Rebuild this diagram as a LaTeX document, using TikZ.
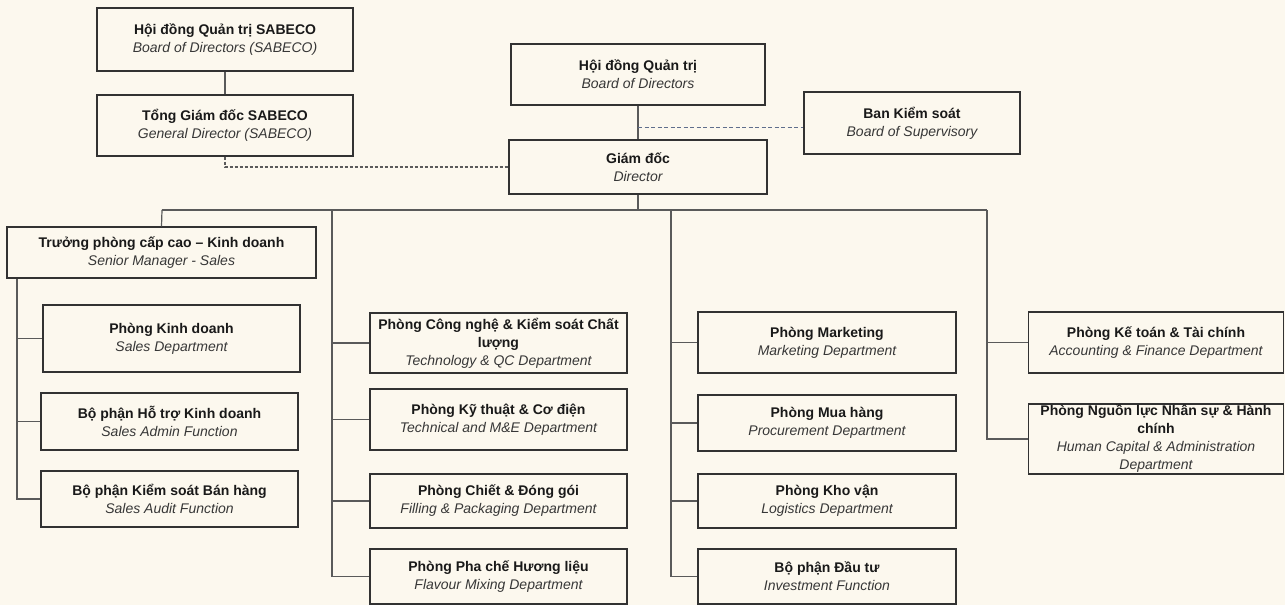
\documentclass[tikz,border=0pt]{standalone}
\usepackage{fontspec}
\setmainfont{Liberation Sans}
\definecolor{bg}{RGB}{252,248,238}
\definecolor{boxline}{RGB}{50,50,50}
\definecolor{conn}{RGB}{90,90,90}
\definecolor{txtb}{RGB}{25,25,25}
\definecolor{txti}{RGB}{55,55,55}
\definecolor{bksdash}{RGB}{95,110,140}
\newcommand{\bt}[2]{\textbf{#1}\\{\color{txti}\itshape #2}}
\begin{document}
\begin{tikzpicture}[x=1pt,y=-1pt,
  orgbox/.style={draw=boxline, line width=1.2pt, fill=bg, align=center, inner sep=1pt,
    font=\fontsize{14}{18}\selectfont, text=txtb},
  link/.style={draw=conn, line width=1.2pt},
  dlink/.style={draw=conn, line width=1.1pt, dash pattern=on 3pt off 2pt},
  blink/.style={draw=bksdash, line width=0.8pt, dash pattern=on 4pt off 2.5pt}]
\fill[bg] (0,0) rectangle (1285,605);
\useasboundingbox (0,0) rectangle (1285,605);

% top-left
\node[orgbox, minimum width=256pt, minimum height=63pt] (hdqts) at (225,39.5)
  {\bt{Hội đồng Quản trị SABECO}{Board of Directors (SABECO)}};
\node[orgbox, minimum width=256pt, minimum height=61pt] (tgds) at (225,125.5)
  {\bt{Tổng Giám đốc SABECO}{General Director (SABECO)}};

% center top
\node[orgbox, minimum width=254pt, minimum height=61pt] (hdqt) at (638,74.5)
  {\bt{Hội đồng Quản trị}{Board of Directors}};
\node[orgbox, minimum width=258pt, minimum height=54pt] (gd) at (638,167)
  {\bt{Giám đốc}{Director}};
\node[orgbox, minimum width=216pt, minimum height=62pt] (bks) at (912,123)
  {\bt{Ban Kiểm soát}{Board of Supervisory}};

% column 1
\node[orgbox, minimum width=309pt, minimum height=51pt] (tpcc) at (161.5,252.5)
  {\bt{Trưởng phòng cấp cao – Kinh doanh}{Senior Manager - Sales}};
\node[orgbox, minimum width=257pt, minimum height=67pt] (pkd) at (171.5,338.5)
  {\bt{Phòng Kinh doanh}{Sales Department}};
\node[orgbox, minimum width=257pt, minimum height=57pt] (htkd) at (169.5,421.5)
  {\bt{Bộ phận Hỗ trợ Kinh doanh}{Sales Admin Function}};
\node[orgbox, minimum width=257pt, minimum height=56pt] (ksbh) at (169.5,499)
  {\bt{Bộ phận Kiểm soát Bán hàng}{Sales Audit Function}};

% column 2
\node[orgbox, minimum width=257pt, minimum height=60pt] (cn) at (498.5,343)
  {\textbf{Phòng Công nghệ \& Kiểm soát Chất}\\\textbf{lượng}\\{\color{txti}\itshape Technology \& QC Department}};
\node[orgbox, minimum width=257pt, minimum height=61pt] (kt) at (498.5,419.5)
  {\bt{Phòng Kỹ thuật \& Cơ điện}{Technical and M\&E Department}};
\node[orgbox, minimum width=257pt, minimum height=54pt] (chiet) at (498.5,501)
  {\bt{Phòng Chiết \& Đóng gói}{Filling \& Packaging Department}};
\node[orgbox, minimum width=257pt, minimum height=55pt] (pc) at (498.5,576.5)
  {\bt{Phòng Pha chế Hương liệu}{Flavour Mixing Department}};

% column 3
\node[orgbox, minimum width=258pt, minimum height=61pt] (mkt) at (827,342.5)
  {\bt{Phòng Marketing}{Marketing Department}};
\node[orgbox, minimum width=258pt, minimum height=56pt] (mh) at (827,423)
  {\bt{Phòng Mua hàng}{Procurement Department}};
\node[orgbox, minimum width=258pt, minimum height=54pt] (kv) at (827,501)
  {\bt{Phòng Kho vận}{Logistics Department}};
\node[orgbox, minimum width=258pt, minimum height=55pt] (dt) at (827,576.5)
  {\bt{Bộ phận Đầu tư}{Investment Function}};

% column 4
\node[orgbox, minimum width=255pt, minimum height=61pt] (kto) at (1156,342.5)
  {\bt{Phòng Kế toán \& Tài chính}{Accounting \& Finance Department}};
\node[orgbox, minimum width=255pt, minimum height=70pt, inner sep=0pt] (ns) at (1156,439)
  {\textbf{Phòng Nguồn lực Nhân sự \& Hành}\\\textbf{chính}\\{\color{txti}\itshape Human Capital \& Administration}\\{\color{txti}\itshape Department}};

% junction coordinates
\coordinate (busL) at (162,210);
\coordinate (busR) at (987,210);
\coordinate (sp1) at (17,0);
\coordinate (sp2) at (332,210);
\coordinate (sp3) at (671,210);
\coordinate (sp4) at (987,210);
\coordinate (bksj) at (638,127);

% connectors
\draw[link] (hdqts) -- (tgds);
\draw[dlink] (tgds.south) |- (gd.west);
\draw[link] (hdqt) -- (gd);
\draw[blink] (bksj) -- (bksj -| bks.west);
\draw[link] (gd.south) -- (gd.south |- busL);
\draw[link] (busL) -- (busR);
\draw[link] (busL) -- (tpcc.north);

% column 1 spine
\draw[link] (tpcc.south -| sp1) |- (ksbh.west);
\draw[link] (pkd.west -| sp1) -- (pkd.west);
\draw[link] (htkd.west -| sp1) -- (htkd.west);

% column 2 spine
\draw[link] (sp2) |- (pc.west);
\draw[link] (cn.west -| sp2) -- (cn.west);
\draw[link] (kt.west -| sp2) -- (kt.west);
\draw[link] (chiet.west -| sp2) -- (chiet.west);

% column 3 spine
\draw[link] (sp3) |- (dt.west);
\draw[link] (mkt.west -| sp3) -- (mkt.west);
\draw[link] (mh.west -| sp3) -- (mh.west);
\draw[link] (kv.west -| sp3) -- (kv.west);

% column 4 spine
\draw[link] (sp4) |- (ns.west);
\draw[link] (kto.west -| sp4) -- (kto.west);
\end{tikzpicture}
\end{document}
